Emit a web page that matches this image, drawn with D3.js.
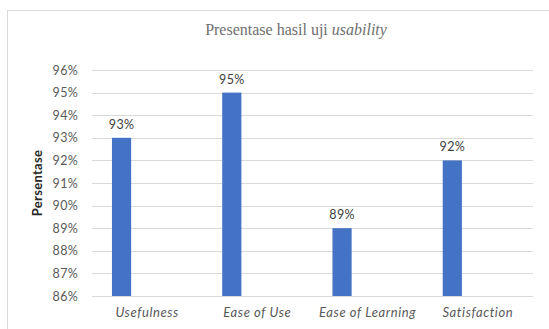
<!DOCTYPE html>
<html>
<head>
<meta charset="utf-8">
<script src="https://cdn.jsdelivr.net/npm/d3@7"></script>
<style>
  html, body { margin: 0; padding: 0; background: #fff; }
  svg { display: block; }
</style>
</head>
<body>
<svg id="chart" width="549" height="329"></svg>
<script>
const categories = ["Usefulness", "Ease of Use", "Ease of Learning", "Satisfaction"];
const values = [0.93, 0.95, 0.89, 0.92];
const tickValues = [0.86, 0.87, 0.88, 0.89, 0.90, 0.91, 0.92, 0.93, 0.94, 0.95, 0.96];
const titleMain = "Presentase hasil uji ";
const titleItalic = "usability";
const yTitle = "Persentase";

(function () {
const svg = d3.select("#chart");
const plotL = 92, plotR = 533, plotT = 70, plotB = 296;

// frame (extends past right and bottom edges)
svg.append("rect")
  .attr("x", 7.5).attr("y", 10.5)
  .attr("width", 600).attr("height", 400)
  .attr("fill", "#fff").attr("stroke", "#d9d9d9").attr("stroke-width", 1);

const x = d3.scaleBand().domain(categories).range([plotL, plotR]).paddingInner(0).paddingOuter(0);
const y = d3.scaleLinear().domain([0.86, 0.96]).range([plotB, plotT]);

// gridlines
svg.append("g").selectAll("line").data(tickValues).join("line")
  .attr("x1", plotL).attr("x2", plotR)
  .attr("y1", d => Math.round(y(d)) + 0.5).attr("y2", d => Math.round(y(d)) + 0.5)
  .attr("stroke", "#d9d9d9").attr("stroke-width", 1);

// y axis labels
const yAxis = d3.axisLeft(y).tickValues(tickValues).tickFormat(d3.format(".0%")).tickSize(0).tickPadding(0);
const yg = svg.append("g").attr("transform", `translate(${78},0)`).call(yAxis);
yg.select(".domain").remove();
yg.selectAll("text")
  .attr("font-family", "Lato, 'Open Sans', sans-serif")
  .attr("font-size", 12.5)
  .attr("letter-spacing", 0.3)
  .attr("fill", "#595959");

// bars
const bw = x.bandwidth();
const barOff = bw * 0.181, barW = bw * 0.174;
svg.append("g").selectAll("rect").data(categories).join("rect")
  .attr("x", (d) => x(d) + barOff)
  .attr("y", (d, i) => y(values[i]))
  .attr("width", barW)
  .attr("height", (d, i) => y(0.86) - y(values[i]))
  .attr("fill", "#4472c4");

// data labels
svg.append("g").selectAll("text").data(categories).join("text")
  .attr("x", d => x(d) + barOff + barW / 2)
  .attr("y", (d, i) => y(values[i]) - 9)
  .attr("text-anchor", "middle")
  .attr("font-family", "Lato, 'Open Sans', sans-serif")
  .attr("font-size", 12.5)
  .attr("letter-spacing", 0.3)
  .attr("fill", "#404040")
  .text((d, i) => d3.format(".0%")(values[i]));

// x axis labels
const xAxis = d3.axisBottom(x).tickSize(0).tickPadding(0);
const xg = svg.append("g").attr("transform", `translate(0,${308})`).call(xAxis);
xg.select(".domain").remove();
xg.selectAll("text")
  .attr("dy", "0.71em")
  .attr("font-family", "Lato, 'Open Sans', sans-serif")
  .attr("font-style", "italic")
  .attr("font-size", 13)
  .attr("letter-spacing", 0.6)
  .attr("fill", "#595959");

// title
const t = svg.append("text")
  .attr("x", 296).attr("y", 35)
  .attr("text-anchor", "middle")
  .attr("font-family", "'Liberation Serif', 'Times New Roman', serif")
  .attr("font-size", 16)
  .attr("fill", "#6f6f6f");
t.append("tspan").text(titleMain);
t.append("tspan").attr("font-style", "italic").text(titleItalic);

// y title
svg.append("text")
  .attr("transform", `translate(${42},${183}) rotate(-90)`)
  .attr("text-anchor", "middle")
  .attr("font-family", "Lato, 'Open Sans', sans-serif")
  .attr("font-weight", "bold")
  .attr("font-size", 13)
  .attr("letter-spacing", 0.3)
  .attr("fill", "#262626")
  .text(yTitle);
})();
</script>
</body>
</html>
